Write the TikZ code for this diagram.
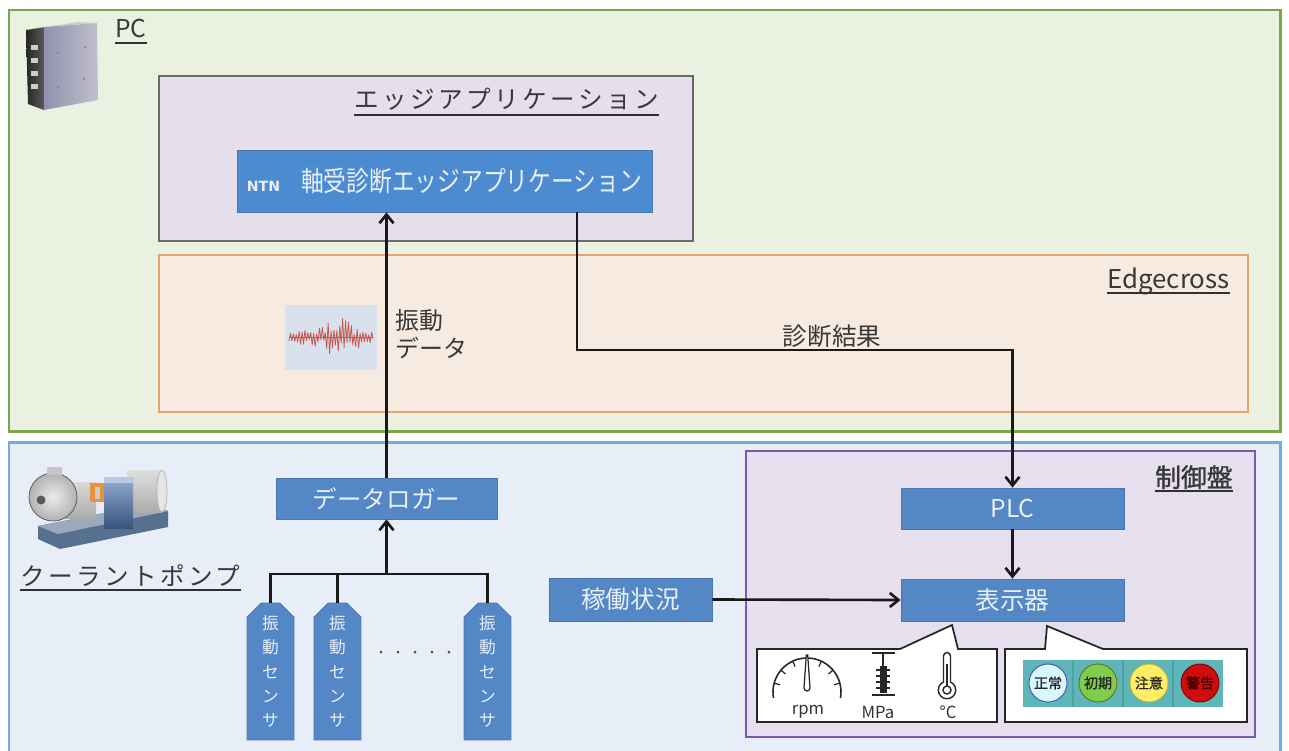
\documentclass[tikz,border=0pt]{standalone}
\usepackage{fontspec}
\setmainfont{Noto Sans CJK JP}
\newfontfamily\spacedfont{Noto Sans CJK JP}[LetterSpace=14]
\newfontfamily\narrowfont{Noto Sans CJK JP}[FakeStretch=0.82]
\newfontfamily\heavyfont{Noto Sans CJK JP}[FakeBold=1.2]
\newfontfamily\logofont{DejaVu Sans}
\usetikzlibrary{arrows.meta,fit,calc,shapes.misc}

\definecolor{pcfill}{HTML}{EBF1E1}
\definecolor{pcedge}{HTML}{78A64B}
\definecolor{appfill}{HTML}{E5DFEC}
\definecolor{appedge}{HTML}{6A6A6A}
\definecolor{ecfill}{HTML}{F7EBE1}
\definecolor{ecedge}{HTML}{E3A46F}
\definecolor{fieldfill}{HTML}{E8EEF8}
\definecolor{fieldedge}{HTML}{70AEE0}
\definecolor{ctrlfill}{HTML}{E6DFEE}
\definecolor{ctrledge}{HTML}{7B5BA8}
\definecolor{blockblue}{HTML}{5487C5}
\definecolor{blockedge}{HTML}{4A77B0}
\definecolor{ntnblue}{HTML}{4C8BD0}
\definecolor{blocktext}{HTML}{E8EFF9}
\definecolor{labelgray}{HTML}{383838}
\definecolor{wavebg}{HTML}{D9E2EC}
\definecolor{wavered}{HTML}{C8564E}
\definecolor{lampteal}{HTML}{5FB6B8}
\definecolor{lampsep}{HTML}{4EA2A5}
\definecolor{pumpblue}{HTML}{4F78B5}
\definecolor{pumpbase}{HTML}{56708F}

\begin{document}
\begin{tikzpicture}[x=0.02cm,y=-0.02cm,
  area/.style={inner sep=0pt},
  size/.style 2 args={minimum width=#1*0.02cm, minimum height=#2*0.02cm},
  block/.style={inner sep=0pt, fill=blockblue, draw=blockedge, line width=0.4pt,
    text=blocktext, font=\fontsize{14}{16}\selectfont},
  sensor/.style={chamfered rectangle, chamfered rectangle corners={north west,north east},
    chamfered rectangle xsep=4pt, chamfered rectangle ysep=4pt,
    fill=blockblue, draw=blockedge, line width=0.4pt, inner sep=0pt,
    minimum width=0.94cm, minimum height=2.74cm, align=center,
    text=blocktext, font=\fontsize{9.5}{13.9}\selectfont},
  lbl/.style={inner sep=0pt, text=labelgray},
  ul/.style={draw=labelgray!85!black, line width=0.8pt},
  conn/.style={line width=1.5pt, draw=black!90},
  arr/.style={conn, -{Straight Barb[length=5pt,width=8pt]}},
  lamp/.style={circle, minimum size=0.76cm, inner sep=0pt, line width=0.5pt,
    text=black!85, font=\heavyfont\fontsize{8}{8}\selectfont},
  icon/.style={line width=0.9pt, draw=black!85},
  callout/.style={fill=white, draw=black!85, line width=1pt, line join=miter}
]
\useasboundingbox (0,0) rectangle (1289,751);
\fill[white] (0,0) rectangle (1289,751);

% ---------- PC layer ----------
\node[area, fit={(9,10) (1280,431)}, fill=pcfill, draw=pcedge, line width=1.7pt] (pc) {};
\node[area, fit={(159,76) (693,241)}, fill=appfill, draw=appedge, line width=1.4pt] (app) {};
\node[area, fit={(159,255) (1248,412)}, fill=ecfill, draw=ecedge, line width=1.4pt] (ec) {};

% PC icon
\shade[left color=black!85, right color=black!65] (26,30) -- (44,27) -- (44,110) -- (28,104) -- cycle;
\foreach \yy in {45,58,71,84} \fill[white!60!gray] (31,\yy) rectangle (38,\yy+5);
\shade[left color=blue!15!gray!75, right color=blue!10!gray!45] (44,27) -- (97,23) -- (98,100) -- (44,110) -- cycle;
\fill[gray!40] (26,30) -- (78,22) -- (97,23) -- (44,27) -- cycle;
\foreach \p in {(58,53),(85,47),(84,79),(58,87)} \fill[black!50] \p circle[radius=1.2];

\node[lbl, anchor=base west, font=\fontsize{14}{16}\selectfont] (pclbl) at (115,37) {PC};
\draw[ul] ($(pclbl.base west)+(0,6)$) -- ($(pclbl.base east)+(0,6)$);

\node[lbl, anchor=base west, font=\spacedfont\fontsize{14}{16}\selectfont] (applbl) at (354,108) {エッジアプリケーション};
\draw[ul] ($(applbl.base west)+(0,7)$) -- ($(applbl.base east)+(0,7)$);

\node[block, fill=ntnblue, size={415}{62}] (ntn) at (444.5,181)
  {{\logofont\bfseries\fontsize{8}{8}\selectfont NTN}\hspace{12pt}{\narrowfont\fontsize{15.8}{18}\selectfont 軸受診断エッジアプリケーション}};

\node[lbl, anchor=base east, font=\fontsize{14.7}{17}\selectfont] (eclbl) at (1230,288) {Edgecross};
\draw[ul] ($(eclbl.base west)+(0,5)$) -- ($(eclbl.base east)+(0,5)$);

% vibration waveform thumbnail
\node[area, fit={(285,305) (377,370)}, fill=wavebg] (wave) {};
\pgfmathsetseed{11}
\draw[wavered, line width=0.3pt] (289,337) -- (373,337);
\draw[wavered, line width=0.45pt, line join=round]
  plot[domain=0:58, samples=59] ({289+1.45*\x}, {337 + cos(\x*180)*(2+19*rnd*exp(-((\x-32)/22)^2))});

\node[lbl, anchor=north west, align=left, font=\fontsize{13.6}{15.9}\selectfont] (vlbl) at (395,309) {振動\\データ};
\node[lbl, font=\fontsize{14}{16}\selectfont] (dlbl) at (832,336) {診断結果};

% ---------- field layer ----------
\node[area, fit={(9,442) (1280,780)}, fill=fieldfill, draw=fieldedge, line width=1.7pt] (field) {};
\node[area, fit={(746,451) (1255,737)}, fill=ctrlfill, draw=ctrledge, line width=1.4pt] (ctrl) {};

% coolant pump
\fill[pumpbase] (38,526) -- (150,504) -- (168,511) -- (168,527) -- (60,549) -- (38,539) -- cycle;
\fill[pumpbase!60!white] (38,526) -- (150,504) -- (168,511) -- (58,534) -- cycle;
\shade[top color=gray!30, bottom color=gray!65] (64,482) rectangle (96,518);
\fill[orange!50!brown!85] (90,483) rectangle (104,502);
\fill[gray!40] (95,487) rectangle (100,499);
\shade[top color=gray!25, bottom color=gray!65] (127,470) rectangle (162,512);
\fill[gray!20] (162,491) ellipse[x radius=5, y radius=21];
\draw[gray!60, line width=0.4pt] (162,491) ellipse[x radius=5, y radius=21];
\shade[top color=pumpblue!60!white, bottom color=pumpblue!70!black] (104,477) rectangle (133,528);
\fill[pumpblue!40!white] (104,477) rectangle (133,483);
\shade[inner color=gray!15, outer color=gray!60] (53,497) circle[radius=24];
\draw[gray!65!black, line width=0.4pt] (53,497) circle[radius=24];
\fill[gray!70!black] (41,500) circle[radius=4.5];
\fill[gray!45] (47,467) rectangle (62,475);

\node[lbl, anchor=base west, font=\spacedfont\fontsize{14}{16}\selectfont] (pumplbl) at (20,585) {クーラントポンプ};
\draw[ul] ($(pumplbl.base west)+(0,5)$) -- ($(pumplbl.base east)+(0,5)$);

% data logger and vibration sensors
\node[block, size={221}{41}] (logger) at (386.5,498.5) {データロガー};
\node[sensor] (s1) at (270.5,671.5) {振\\動\\セ\\ン\\サ};
\node[sensor] (s2) at (337.5,671.5) {振\\動\\セ\\ン\\サ};
\node[sensor] (s3) at (487.5,671.5) {振\\動\\セ\\ン\\サ};
\foreach \xx in {381,398,415,432,449} \fill[black!70] (\xx,652) circle[radius=1.5];

\coordinate (hub) at (386.5,574);
\draw[conn] (s1.north) |- (hub) -| (s3.north);
\draw[conn] (s2.north) -- (s2.north |- hub);
\draw[arr] (hub) -- (hub |- logger.south);
\draw[arr] (logger.north) -- (logger.north |- ntn.south);

% control panel
\node[lbl, anchor=base east, font=\heavyfont\fontsize{14.7}{17}\selectfont] (ctrllbl) at (1233,487) {制御盤};
\draw[ul] ($(ctrllbl.base west)+(0,4)$) -- ($(ctrllbl.base east)+(0,4)$);

\node[block, size={223}{41}] (plc) at (1012.5,508.5) {PLC};
\node[block, size={223}{42}] (disp) at (1012.5,600) {表示器};
\node[block, size={163}{43}] (status) at (630.5,599.5) {稼働状況};

\coordinate (bend) at (577,350);
\draw[arr] (bend |- ntn.south) -- (bend) -| (plc.north);
\draw[arr] (plc.south) -- (disp.north);
\draw[arr] (status.east) -- (disp.west);

% display callouts
\draw[callout] (757,649) -- (900,649) -- (952,625) -- (958,649) -- (997,649)
  -- (997,722) -- (757,722) -- cycle;
\draw[callout] (1005,649) -- (1045,649) -- (1047,626) -- (1103,649) -- (1247,649)
  -- (1247,722) -- (1005,722) -- cycle;

% gauge (rpm)
\coordinate (gc) at (807,692);
\draw[icon] (gc) ++(170:34) arc[start angle=170, end angle=370, radius=34];
\foreach \a in {195,220,245,295,320,345}
  \draw[icon, line width=0.7pt] (gc) ++(\a:34) -- ++(\a:-6);
\draw[icon, line width=0.7pt, fill=white] (804,688) -- (806.3,655) -- (807.7,655) -- (810,688)
  arc[start angle=0, end angle=180, radius=3] -- cycle;
\node[lbl, font=\fontsize{9.5}{11}\selectfont, text=black!80] (rpm) at (808,712) {rpm};

% pressure gauge (MPa)
\draw[icon, line width=1.3pt] (872,653) -- (895,653);
\draw[icon] (883,653) -- (883,667);
\fill[black!85] (879.5,666) rectangle (886.5,693);
\foreach \yy in {670,676,682,688} \draw[icon, line width=0.8pt] (876,\yy) -- (890,\yy);
\draw[icon, line width=1.3pt] (872,695) -- (895,695);
\node[lbl, font=\fontsize{9.5}{11}\selectfont, text=black!80] (mpa) at (878,712) {MPa};

% thermometer
\draw[icon, line width=0.8pt] (943.5,682) -- (943.5,656) arc[start angle=180, end angle=360, radius=3.5]
  -- (950.5,682) arc[start angle=-66.4, end angle=246.4, radius=8.73];
\draw[icon, line width=0.8pt] (947,690) circle[radius=4];
\draw[icon, line width=0.8pt] (947,686) -- (947,664);
\node[lbl, font=\fontsize{9.5}{11}\selectfont, text=black!80] (degc) at (948,712) {°C};

% status lamps
\node[area, fit={(1023,660) (1223,707)}, fill=lampteal] (lamps) {};
\foreach \xx in {1073,1123,1173} \draw[lampsep, line width=0.6pt] (\xx,660) -- (\xx,707);
\node[lamp, fill=blue!20!cyan!15, draw=blue!40!gray] (lnorm) at (1048,683) {正常};
\node[lamp, fill=green!45!olive!70, draw=olive!70!black] (learly) at (1098,683) {初期};
\node[lamp, fill=yellow!85!orange!60, draw=olive!60] (lcaut) at (1149,683) {注意};
\node[lamp, fill=red!80!black!95, draw=red!50!black, text=black!75!red] (lwarn) at (1200,683) {警告};
\end{tikzpicture}
\end{document}
